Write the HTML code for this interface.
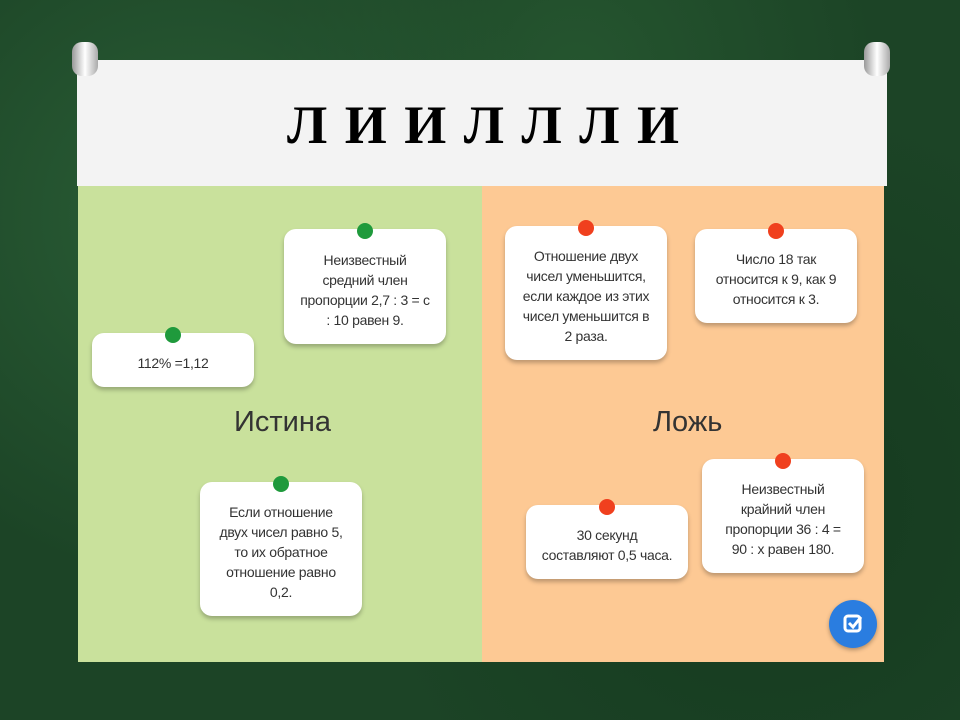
<!DOCTYPE html>
<html><head><meta charset="utf-8"><style>
*{margin:0;padding:0;box-sizing:border-box}
body{width:960px;height:720px;overflow:hidden;position:relative;background:#1c4426;
background-image:radial-gradient(circle at 20% 30%,#2a5e36 0,transparent 40%),radial-gradient(circle at 80% 70%,#153a1f 0,transparent 45%),radial-gradient(circle at 60% 10%,#25552f 0,transparent 35%);
font-family:"Liberation Sans",Arial,sans-serif}
.hdr{position:absolute;left:77px;top:60px;width:810px;height:126px;background:#f3f3f3}
.title{position:absolute;left:77px;top:94px;width:812px;text-align:center;font-family:"Liberation Serif",serif;font-weight:bold;font-size:54px;color:#000;word-spacing:4px}
.g{position:absolute;left:78px;top:186px;width:404px;height:476px;background:#c9e19c}
.o{position:absolute;left:482px;top:186px;width:402px;height:476px;background:#fdc994}
.card{position:absolute;background:#fff;border-radius:12px;box-shadow:0 3px 4px rgba(0,0,0,.25);display:flex;align-items:center;justify-content:center;text-align:center;font-size:14px;line-height:20px;color:#333;padding:6px 2px 0;white-space:nowrap;letter-spacing:-0.3px}
.dot{position:absolute;width:16px;height:16px;border-radius:50%;top:-6px;left:50%;margin-left:-8px}
.gd{background:#1f9a3c}.rd{background:#f0401e}
.lbl{position:absolute;font-size:29px;color:#333}
.pin{position:absolute;width:26px;height:34px;border-radius:10px;background:linear-gradient(90deg,#999,#fff,#aaa)}
</style></head><body>
<div class="hdr"></div>
<div class="pin" style="left:72px;top:42px"></div>
<div class="pin" style="left:864px;top:42px"></div>
<div class="title">Л И И Л Л Л И</div>
<div class="g"></div><div class="o"></div>
<div class="lbl" style="left:234px;top:406px">Истина</div>
<div class="lbl" style="left:653px;top:406px">Ложь</div>
<div class="card" style="left:92px;top:333px;width:162px;height:54px"><span class="dot gd"></span>112% =1,12</div>
<div class="card" style="left:284px;top:229px;width:162px;height:115px"><span class="dot gd"></span><div>Неизвестный<br>средний член<br>пропорции 2,7 : 3 = с<br>: 10 равен 9.</div></div>
<div class="card" style="left:200px;top:482px;width:162px;height:134px"><span class="dot gd"></span><div>Если отношение<br>двух чисел равно 5,<br>то их обратное<br>отношение равно<br>0,2.</div></div>
<div class="card" style="left:505px;top:226px;width:162px;height:134px"><span class="dot rd"></span><div>Отношение двух<br>чисел уменьшится,<br>если каждое из этих<br>чисел уменьшится в<br>2 раза.</div></div>
<div class="card" style="left:695px;top:229px;width:162px;height:94px"><span class="dot rd"></span><div>Число 18 так<br>относится к 9, как 9<br>относится к 3.</div></div>
<div class="card" style="left:526px;top:505px;width:162px;height:74px"><span class="dot rd"></span><div>30 секунд<br>составляют 0,5 часа.</div></div>
<div class="card" style="left:702px;top:459px;width:162px;height:114px"><span class="dot rd"></span><div>Неизвестный<br>крайний член<br>пропорции 36 : 4 =<br>90 : х равен 180.</div></div>
<div style="position:absolute;left:829px;top:600px;width:48px;height:48px;border-radius:50%;background:#2a7de0;box-shadow:0 2px 4px rgba(0,0,0,.3)">
<svg width="48" height="48"><rect x="16" y="16" width="15" height="15" rx="3" fill="none" stroke="#fff" stroke-width="3"/><path d="M20 23l4 4 8-10" fill="none" stroke="#fff" stroke-width="3"/></svg></div>
</body></html>
